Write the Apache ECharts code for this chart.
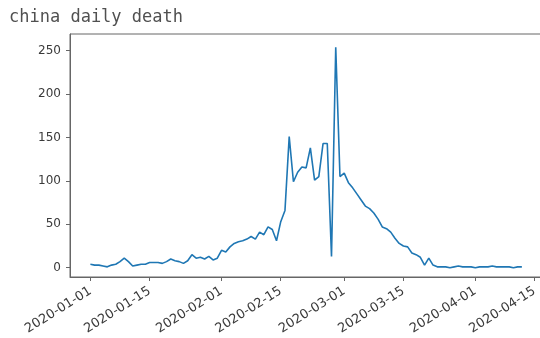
<!DOCTYPE html>
<html>
<head>
<meta charset="utf-8">
<script src="https://cdn.jsdelivr.net/npm/echarts@6/dist/echarts.min.js"></script>
<style>
  html, body { margin: 0; padding: 0; background: #ffffff; }
  #chart { width: 540px; height: 338px; }
</style>
</head>
<body>
<div id="chart"></div>
<script>
// Daily deaths in China, one value per day starting 2020-01-01
const startDate = '2020-01-01';
const deaths = [
  4, 3, 3, 2, 1, 3, 4, 7, 11, 7,
  2, 3, 4, 4, 6, 6, 6, 5, 7, 10,
  8, 7, 5, 8, 15, 11, 12, 10, 13, 9,
  11, 20, 18, 24, 28, 30, 31, 33, 36, 33,
  41, 38, 47, 44, 31, 53, 66, 151, 99, 110,
  116, 115, 138, 101, 105, 143, 143, 13, 254, 105,
  109, 98, 92, 85, 78, 71, 68, 63, 56, 47,
  45, 41, 34, 28, 25, 24, 17, 15, 12, 3,
  11, 3, 1, 1, 1, 0, 1, 2, 1, 1,
  1, 0, 1, 1, 1, 2, 1, 1, 1, 1,
  0, 1, 1
];
const xTickLabels = ['2020-01-01', '2020-01-15', '2020-02-01', '2020-02-15',
                     '2020-03-01', '2020-03-15', '2020-04-01', '2020-04-15'];
const yTickValues = [0, 50, 100, 150, 200, 250];

// Dates are placed on a numeric axis as day offsets from startDate (UTC).
const DAY = 24 * 3600 * 1000;
const toUTC = s => { const p = s.split('-').map(Number); return Date.UTC(p[0], p[1] - 1, p[2]); };
const t0 = toUTC(startDate);
const dayOf = s => Math.round((toUTC(s) - t0) / DAY);
const pad = n => (n < 10 ? '0' : '') + n;
const dateOf = day => {
  const d = new Date(t0 + day * DAY);
  return d.getUTCFullYear() + '-' + pad(d.getUTCMonth() + 1) + '-' + pad(d.getUTCDate());
};
const seriesData = deaths.map((v, i) => [i, v]);
const xTickValues = xTickLabels.map(dayOf);

const axisColor = '#666666';
const labelColor = '#3a3a3a';

const chart = echarts.init(document.getElementById('chart'), null, { renderer: 'canvas' });
chart.setOption({
  backgroundColor: '#ffffff',
  animation: false,
  title: {
    text: 'china daily death',
    left: 4,
    top: 4,
    textStyle: {
      fontFamily: 'DejaVu Sans Mono',
      fontSize: 17,
      fontWeight: 'normal',
      color: '#505050'
    }
  },
  grid: {
    left: 70,
    top: 34,
    width: 475,
    height: 243,
    show: true,
    borderColor: axisColor,
    borderWidth: 1,
    containLabel: false,
    outerBoundsMode: 'none'
  },
  xAxis: {
    type: 'value',
    min: -4.82,
    max: 107.47,
    axisLine: { show: true, onZero: false, lineStyle: { color: axisColor, width: 1 } },
    axisTick: {
      show: true, length: 4, inside: false,
      customValues: xTickValues,
      lineStyle: { color: axisColor }
    },
    axisLabel: {
      customValues: xTickValues,
      formatter: v => dateOf(v),
      rotate: 32,
      margin: 13,
      hideOverlap: false,
      fontFamily: 'DejaVu Sans',
      fontSize: 13,
      color: labelColor
    },
    splitLine: { show: false }
  },
  yAxis: {
    type: 'value',
    min: -10.7,
    max: 269.2,
    axisLine: { show: true, onZero: false, lineStyle: { color: axisColor, width: 1 } },
    axisTick: {
      show: true, length: 4, inside: false,
      customValues: yTickValues,
      lineStyle: { color: axisColor }
    },
    axisLabel: {
      customValues: yTickValues,
      margin: 9,
      fontFamily: 'DejaVu Sans',
      fontSize: 12,
      color: labelColor
    },
    splitLine: { show: false }
  },
  series: [{
    type: 'line',
    data: seriesData,
    showSymbol: false,
    smooth: false,
    lineStyle: { color: '#1f77b4', width: 1.6 },
    itemStyle: { color: '#1f77b4' }
  }]
});
</script>
</body>
</html>
